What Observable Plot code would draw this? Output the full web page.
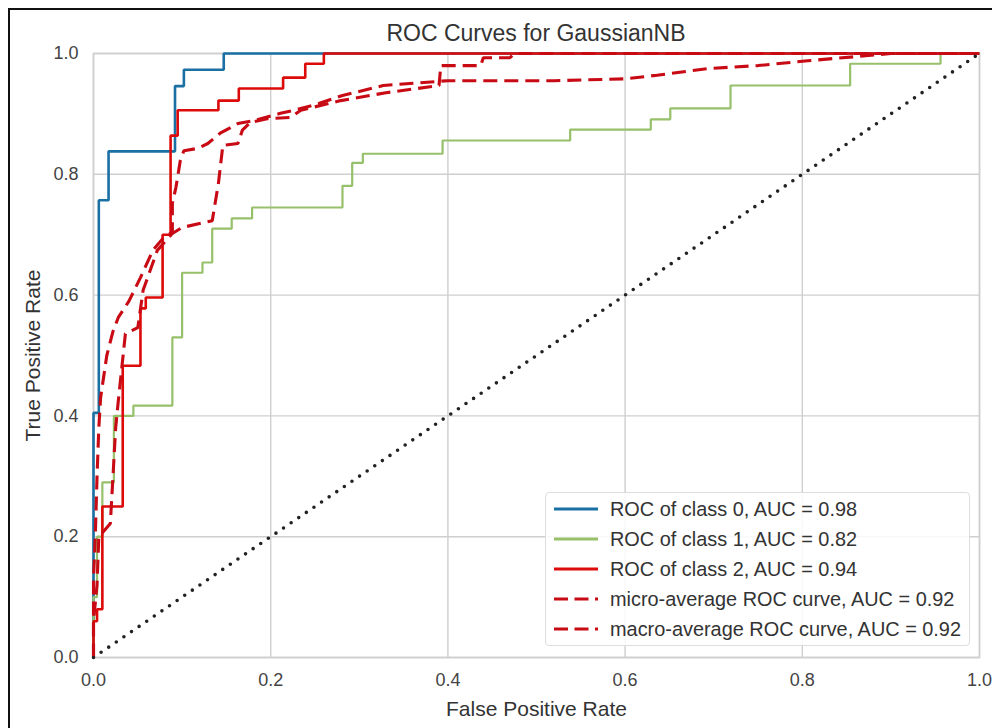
<!DOCTYPE html>
<html>
<head>
<meta charset="utf-8">
<script src="https://cdn.jsdelivr.net/npm/d3@7"></script>
<script src="https://cdn.jsdelivr.net/npm/@observablehq/plot@0.6"></script>
<style>
  html, body { margin: 0; padding: 0; background: #fff; }
  body { width: 992px; height: 728px; overflow: hidden; position: relative; font-family: "Liberation Sans", Arial, sans-serif; }
  #frame { position: absolute; left: 8px; top: 8px; width: 1000px; height: 800px; border: 2px solid #111; box-sizing: border-box; }
  #chart { position: absolute; left: 0; top: 0; }
  #title { position: absolute; left: 93px; width: 886px; top: 20px; line-height: 26px; text-align: center; font-size: 23px; color: #333; }
  #legend { position: absolute; left: 545px; top: 492px; width: 425px; height: 154px; background: rgba(255,255,255,0.85);
            border: 1px solid #ddd; border-radius: 4px; box-sizing: border-box; padding-top: 1px; }
  .item { display: flex; align-items: center; height: 30px; color: #333; font-size: 19.9px; }
  .item svg { margin-left: 8px; margin-right: 12px; }
  #chart g[aria-label="x-axis label"] text, #chart g[aria-label="y-axis label"] text { font-size: 21px; fill: #333; }
</style>
</head>
<body>
<div id="chart"></div>
<div id="frame"></div>
<div id="title"></div>
<div id="legend"></div>
<script>
const titleText = "ROC Curves for GaussianNB";
const xLabel = "False Positive Rate";
const yLabel = "True Positive Rate";
const xTicks = [0, 0.2, 0.4, 0.6, 0.8, 1.0];
const yTicks = [0, 0.2, 0.4, 0.6, 0.8, 1.0];

const seriesNames = [
  "ROC of class 0, AUC = 0.98",
  "ROC of class 1, AUC = 0.82",
  "ROC of class 2, AUC = 0.94",
  "micro-average ROC curve, AUC = 0.92",
  "macro-average ROC curve, AUC = 0.92"
];
const seriesColors = ["#1a6fa3", "#96c06a", "#dd0a0a", "#c80a14", "#c80a14"];
const seriesDash = [null, null, null, "14,7", "14,7"];
const seriesWidth = [2.6, 2.2, 2.6, 3.1, 3.1];

const class0Fpr = [0, 0, 0.006, 0.006, 0.017, 0.017, 0.092, 0.092, 0.102, 0.102, 0.147, 0.147, 1];
const class0Tpr = [0, 0.405, 0.405, 0.757, 0.757, 0.838, 0.838, 0.946, 0.946, 0.973, 0.973, 1, 1];

const class1Fpr = [0, 0, 0.004, 0.004, 0.01, 0.01, 0.023, 0.023, 0.045, 0.045, 0.089, 0.089, 0.1, 0.1, 0.123, 0.123, 0.134, 0.134, 0.156, 0.156, 0.179, 0.179, 0.281, 0.281, 0.292, 0.292, 0.304, 0.304, 0.394, 0.394, 0.538, 0.538, 0.629, 0.629, 0.651, 0.651, 0.719, 0.719, 0.854, 0.854, 0.956, 0.956, 1];
const class1Tpr = [0, 0.1, 0.1, 0.2, 0.2, 0.29, 0.29, 0.4, 0.4, 0.417, 0.417, 0.53, 0.53, 0.637, 0.637, 0.654, 0.654, 0.71, 0.71, 0.727, 0.727, 0.745, 0.745, 0.781, 0.781, 0.819, 0.819, 0.834, 0.834, 0.856, 0.856, 0.874, 0.874, 0.891, 0.891, 0.909, 0.909, 0.947, 0.947, 0.983, 0.983, 1, 1];

const class2Fpr = [0, 0, 0.004, 0.004, 0.01, 0.01, 0.033, 0.033, 0.053, 0.053, 0.059, 0.059, 0.078, 0.078, 0.087, 0.087, 0.095, 0.095, 0.141, 0.141, 0.164, 0.164, 0.214, 0.214, 0.239, 0.239, 0.26, 0.26, 1];
const class2Tpr = [0, 0.06, 0.06, 0.08, 0.08, 0.25, 0.25, 0.483, 0.483, 0.578, 0.578, 0.596, 0.596, 0.7, 0.7, 0.864, 0.864, 0.906, 0.906, 0.922, 0.922, 0.942, 0.942, 0.96, 0.96, 0.983, 0.983, 1, 1];

const microFpr = [0, 0, 0.002, 0.004, 0.006, 0.008, 0.015, 0.022, 0.028, 0.04, 0.053, 0.067, 0.079, 0.089, 0.089, 0.093, 0.098, 0.102, 0.118, 0.129, 0.143, 0.163, 0.181, 0.211, 0.226, 0.25, 0.28, 0.327, 0.4, 0.52, 0.6, 0.636, 0.693, 0.75, 0.806, 0.862, 0.9, 1];
const microTpr = [0, 0.13, 0.2, 0.3, 0.38, 0.43, 0.5, 0.54, 0.563, 0.59, 0.629, 0.674, 0.695, 0.704, 0.752, 0.778, 0.823, 0.839, 0.843, 0.851, 0.868, 0.884, 0.889, 0.901, 0.906, 0.915, 0.93, 0.947, 0.955, 0.955, 0.958, 0.964, 0.975, 0.98, 0.988, 0.995, 1, 1];

const macroFpr = [0, 0, 0.004, 0.006, 0.012, 0.019, 0.022, 0.025, 0.028, 0.036, 0.05, 0.056, 0.072, 0.089, 0.1, 0.134, 0.141, 0.146, 0.163, 0.168, 0.177, 0.196, 0.222, 0.234, 0.279, 0.33, 0.39, 0.392, 0.437, 0.44, 0.47, 0.475, 1];
const macroTpr = [0, 0.06, 0.12, 0.2, 0.21, 0.222, 0.3, 0.38, 0.425, 0.536, 0.546, 0.608, 0.674, 0.702, 0.712, 0.723, 0.785, 0.848, 0.851, 0.873, 0.886, 0.892, 0.894, 0.906, 0.922, 0.935, 0.947, 0.98, 0.98, 0.993, 0.993, 1, 1];

const chanceFpr = [0, 1];
const chanceTpr = [0, 1];

const fprs = [class0Fpr, class1Fpr, class2Fpr, microFpr, macroFpr];
const tprs = [class0Tpr, class1Tpr, class2Tpr, microTpr, macroTpr];

const toRows = (xs, ys) => xs.map((x, i) => ({fpr: x, tpr: ys[i]}));

const lineMarks = fprs.map((xs, k) => Plot.line(toRows(xs, tprs[k]), {
  x: "fpr", y: "tpr",
  stroke: seriesColors[k],
  strokeWidth: seriesWidth[k],
  strokeDasharray: seriesDash[k] || undefined,
  strokeLinejoin: "miter",
  strokeLinecap: "butt"
}));

const fmt = d => d.toFixed(1);
const fontStack = "'Liberation Sans', Arial, sans-serif";

const chart = Plot.plot({
  width: 992,
  height: 728,
  marginLeft: 93,
  marginRight: 13,
  marginTop: 53,
  marginBottom: 71,
  style: {fontFamily: fontStack, fontSize: "18px", color: "#444", background: "transparent"},
  x: {domain: [0, 1]},
  y: {domain: [0, 1]},
  marks: [
    Plot.gridX(xTicks, {stroke: "#cfcfcf", strokeOpacity: 1, strokeWidth: 1.4}),
    Plot.gridY(yTicks, {stroke: "#cfcfcf", strokeOpacity: 1, strokeWidth: 1.4}),
    Plot.frame({stroke: "#cfcfcf", strokeWidth: 1.6}),
    Plot.axisX({ticks: xTicks, tickSize: 0, tickPadding: 16, tickFormat: fmt,
      label: xLabel, labelAnchor: "center", labelArrow: "none", labelOffset: 58, fontSize: 18}),
    Plot.axisY({ticks: yTicks, tickSize: 0, tickPadding: 15, tickFormat: fmt,
      label: yLabel, labelAnchor: "center", labelArrow: "none", labelOffset: 68, fontSize: 18}),
    ...lineMarks,
    Plot.line(toRows(chanceFpr, chanceTpr), {x: "fpr", y: "tpr", stroke: "#222",
      strokeWidth: 3.6, strokeDasharray: "0,9.2", strokeLinecap: "round"})
  ]
});
document.getElementById("chart").appendChild(chart);
document.getElementById("title").textContent = titleText;

const legend = document.getElementById("legend");
seriesNames.forEach((name, k) => {
  const item = document.createElement("div");
  item.className = "item";
  const ns = "http://www.w3.org/2000/svg";
  const s = document.createElementNS(ns, "svg");
  s.setAttribute("width", 44); s.setAttribute("height", 10);
  const l = document.createElementNS(ns, "line");
  l.setAttribute("x1", 0); l.setAttribute("x2", 44); l.setAttribute("y1", 5); l.setAttribute("y2", 5);
  l.setAttribute("stroke", seriesColors[k]);
  l.setAttribute("stroke-width", 3);
  if (seriesDash[k]) l.setAttribute("stroke-dasharray", "14,6.5");
  s.appendChild(l);
  item.appendChild(s);
  const t = document.createElement("span");
  t.textContent = name;
  item.appendChild(t);
  legend.appendChild(item);
});
</script>
</body>
</html>
